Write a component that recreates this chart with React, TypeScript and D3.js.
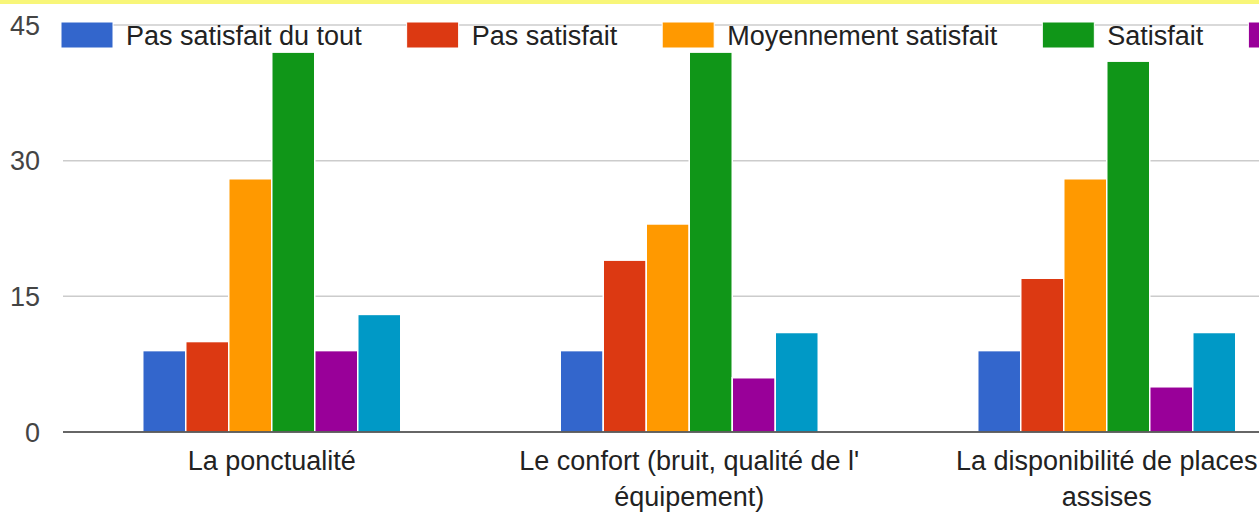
import React from "react";
import * as d3 from "d3";

const categories: string[][] = [
  ["La ponctualité"],
  ["Le confort (bruit, qualité de l'", "équipement)"],
  ["La disponibilité de places", "assises"],
];
const seriesNames = [
  "Pas satisfait du tout",
  "Pas satisfait",
  "Moyennement satisfait",
  "Satisfait",
  "Très satisfait",
  "Sans avis",
];
const seriesColors = ["#3366cc", "#dc3912", "#ff9900", "#109618", "#990099", "#0099c6"];
// values[series][category]
const pasSatisfaitDuTout = [9, 9, 9];
const pasSatisfait = [10, 19, 17];
const moyennement = [28, 23, 28];
const satisfait = [42, 42, 41];
const tresSatisfait = [9, 6, 5];
const sansAvis = [13, 11, 11];
const seriesValues = [pasSatisfaitDuTout, pasSatisfait, moyennement, satisfait, tresSatisfait, sansAvis];
const yTicks = [0, 15, 30, 45];

const W = 1259;
const H = 517;
const FONT = "'Liberation Sans', Arial, sans-serif";
const FS = 27;

function measure(text: string): number {
  const c = document.createElement("canvas").getContext("2d");
  if (!c) return text.length * FS * 0.5;
  c.font = `${FS}px ${FONT}`;
  return c.measureText(text).width;
}

export default function App() {
  const plotLeft = 63;
  const step = 417.5;
  const x0 = d3
    .scaleBand<number>()
    .domain(categories.map((_, i) => i))
    .range([plotLeft, plotLeft + step * categories.length])
    .padding(0);
  const bw = x0.bandwidth();
  const x1 = d3
    .scaleBand<number>()
    .domain(seriesNames.map((_, i) => i))
    .range([bw * 0.191, bw * 0.809])
    .padding(0);
  const y = d3.scaleLinear().domain([0, 45]).range([432, 25]);

  // legend layout (the chart is cropped on the right, like the reference)
  const legendItems: { x: number; tx: number; name: string; color: string }[] = [];
  let lx = 61;
  seriesNames.forEach((name, i) => {
    legendItems.push({ x: lx, tx: lx + 52 + 13, name, color: seriesColors[i] });
    lx = lx + 52 + 13 + measure(name) + 45;
  });

  return (
    <div style={{ position: "absolute", left: 0, top: 0 }}>
      <svg width={W} height={H} style={{ display: "block", background: "#fff", fontFamily: FONT }}>
        <rect x={0} y={0} width={W} height={4} fill="#f8f679" />
        {yTicks.map((t) => (
          <g key={t}>
            {t !== 0 && (
              <line x1={plotLeft} x2={W} y1={y(t)} y2={y(t)} stroke="#cccccc" strokeWidth={1.5} />
            )}
            <text x={40} y={y(t)} dy="0.36em" textAnchor="end" fontSize={FS} fill="#444">
              {t}
            </text>
          </g>
        ))}
        {seriesValues.map((vals, s) =>
          vals.map((v, c) => (
            <rect
              key={`${s}-${c}`}
              x={(x0(c) ?? 0) + (x1(s) ?? 0)}
              y={y(v)}
              width={x1.bandwidth()}
              height={y(0) - y(v)}
              fill={seriesColors[s]}
              stroke="#fff"
              strokeWidth={1.5}
            />
          ))
        )}
        <line x1={plotLeft} x2={W} y1={y(0)} y2={y(0)} stroke="#333" strokeWidth={1.5} />
        {categories.map((lines, c) => (
          <text
            key={c}
            x={(x0(c) ?? 0) + bw / 2}
            y={470}
            textAnchor="middle"
            fontSize={FS}
            fill="#222"
          >
            {lines.map((ln, i) => (
              <tspan key={i} x={(x0(c) ?? 0) + bw / 2} dy={i === 0 ? 0 : 36}>
                {ln}
              </tspan>
            ))}
          </text>
        ))}
        {legendItems
          .filter((it) => it.x < W)
          .map((it, i) => (
            <g key={i}>
              <rect x={it.x} y={22} width={52} height={26} fill={it.color} stroke="#fff" strokeWidth={1} />
              {it.tx < W && (
                <text x={it.tx} y={45} fontSize={FS} fill="#222">
                  {it.name}
                </text>
              )}
            </g>
          ))}
      </svg>
    </div>
  );
}
